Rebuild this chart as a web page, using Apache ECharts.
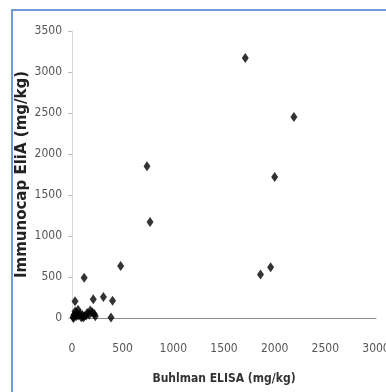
<!DOCTYPE html>
<html>
<head>
<meta charset="utf-8">
<script src="https://cdn.jsdelivr.net/npm/echarts@6/dist/echarts.min.js"></script>
<style>
  html, body { margin: 0; padding: 0; background: #fff; }
  #frame { position: absolute; left: 11px; top: 9px; width: 380px; height: 390px;
           border-top: 2px solid #6f9ad6; border-left: 2px solid #6f9ad6; }
  #chart { position: absolute; left: 0; top: 0; width: 386px; height: 392px; }
</style>
</head>
<body>
<div id="frame"></div>
<div id="chart"></div>
<script>
// Buhlman ELISA (x) vs Immunocap EliA (y), mg/kg
var buhlman = [1710, 2190, 2000, 740, 770, 480, 120, 30, 210, 310, 400, 385, 1860, 1960,
               10, 20, 30, 40, 50, 60, 80, 90, 100, 120, 140, 150, 170, 180, 200, 220, 230, 60, 15, 110];
var immunocap = [3170, 2450, 1720, 1850, 1170, 635, 490, 205, 230, 255, 210, 5, 530, 620,
                 10, 40, 80, 20, 60, 30, 50, 10, 40, 20, 30, 60, 40, 90, 70, 50, 20, 100, 0, 5];
var xTicks = [0, 500, 1000, 1500, 2000, 2500, 3000];
var yTicks = [0, 500, 1000, 1500, 2000, 2500, 3000, 3500];

var points = buhlman.map(function (v, i) { return [v, immunocap[i]]; });

var labelFont = '"Liberation Sans Narrow", "DejaVu Sans Condensed", sans-serif';
function plain(v) { return String(v); }

var myChart = echarts.init(document.getElementById('chart'));
var option = {
    animation: false,
    grid: { left: 72, right: 10, top: 31, bottom: 74, outerBoundsMode: 'none', containLabel: false },
    xAxis: {
        type: 'value',
        min: xTicks[0], max: xTicks[xTicks.length - 1], interval: 500,
        name: 'Buhlman ELISA (mg/kg)',
        nameLocation: 'middle', nameGap: 55, nameMoveOverlap: false,
        nameTextStyle: { fontFamily: labelFont, fontWeight: 'bold', fontSize: 12, color: '#333' },
        axisLine: { show: true, lineStyle: { color: '#8c8c8c', width: 1 } },
        axisTick: { show: false },
        axisLabel: { margin: 25, fontFamily: labelFont, fontSize: 12, color: '#555', formatter: plain },
        splitLine: { show: false }
    },
    yAxis: {
        type: 'value',
        min: yTicks[0], max: yTicks[yTicks.length - 1], interval: 500,
        name: 'Immunocap EliA (mg/kg)',
        nameLocation: 'middle', nameGap: 42, nameMoveOverlap: false,
        nameTextStyle: { fontFamily: 'DejaVu Sans', fontWeight: 'bold', fontSize: 15, color: '#222' },
        axisLine: { show: true, lineStyle: { color: '#d9d9d9', width: 1 } },
        axisTick: { show: true, length: 4, lineStyle: { color: '#bbb' } },
        axisLabel: { margin: 10, fontFamily: labelFont, fontSize: 12, color: '#555', formatter: plain },
        splitLine: { show: false }
    },
    series: [{
        type: 'scatter',
        symbol: 'diamond',
        symbolSize: [7, 10],
        itemStyle: { color: '#000' },
        data: points
    }]
};
myChart.setOption(option);
</script>
</body>
</html>
